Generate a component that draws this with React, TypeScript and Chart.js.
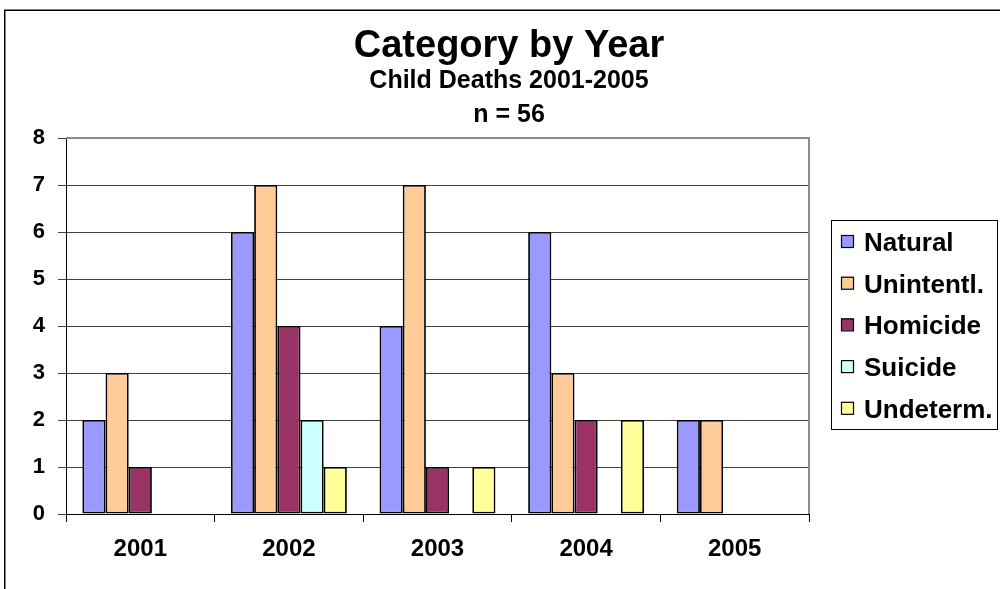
import React, { useEffect, useRef } from "react";
import { Chart, registerables } from "chart.js";

Chart.register(...registerables);

const years = ["2001", "2002", "2003", "2004", "2005"];
const seriesNames = ["Natural", "Unintentl.", "Homicide", "Suicide", "Undeterm."];
const natural = [2, 6, 4, 6, 2];
const unintentional = [3, 7, 7, 3, 2];
const homicide = [1, 4, 1, 2, 0];
const suicide = [0, 2, 0, 0, 0];
const undetermined = [0, 1, 1, 2, 0];
const seriesColors = ["#9999FF", "#FFCC99", "#993366", "#CCFFFF", "#FFFF99"];
const titleText = "Category by Year";
const subtitleLines = ["Child Deaths 2001-2005", "n = 56"];
const yTicks = [0, 1, 2, 3, 4, 5, 6, 7, 8];

const FONT = "'Liberation Sans', Arial, Helvetica, sans-serif";

const decorPlugin = {
  id: "decor",
  beforeDraw(chart: any) {
    const ctx = chart.ctx;
    ctx.save();
    ctx.fillStyle = "#ffffff";
    ctx.fillRect(0, 0, chart.width, chart.height);
    // outer frame
    ctx.strokeStyle = "#000";
    ctx.lineWidth = 1.5;
    ctx.beginPath();
    ctx.moveTo(4.75, chart.height);
    ctx.lineTo(4.75, 10.25);
    ctx.lineTo(chart.width, 10.25);
    ctx.stroke();
    // titles
    ctx.fillStyle = "#000";
    ctx.textAlign = "center";
    ctx.textBaseline = "alphabetic";
    ctx.font = `bold 38px ${FONT}`;
    ctx.fillText(titleText, 509, 57);
    ctx.font = `bold 25px ${FONT}`;
    ctx.fillText(subtitleLines[0], 509, 88);
    ctx.font = `bold 25px ${FONT}`;
    ctx.fillText(subtitleLines[1], 509, 122);
    ctx.restore();
  },
  beforeDatasetsDraw(chart: any) {
    const { ctx, chartArea } = chart;
    ctx.save();
    ctx.strokeStyle = "#8c8c8c";
    ctx.lineWidth = 2;
    ctx.beginPath();
    ctx.moveTo(chartArea.left, chartArea.top);
    ctx.lineTo(chartArea.right, chartArea.top);
    ctx.lineTo(chartArea.right, chartArea.bottom);
    ctx.stroke();
    ctx.restore();
  },
  afterDraw(chart: any) {
    const ctx = chart.ctx;
    ctx.save();
    // legend box
    ctx.strokeStyle = "#000";
    ctx.lineWidth = 1;
    ctx.strokeRect(831.5, 220.5, 166, 209);
    ctx.font = `bold 26px ${FONT}`;
    ctx.textAlign = "left";
    ctx.textBaseline = "alphabetic";
    chart.data.datasets.forEach((ds: any, i: number) => {
      const base = 251 + i * 41.7;
      ctx.fillStyle = ds.backgroundColor;
      ctx.fillRect(841, base - 16, 12, 12);
      ctx.strokeStyle = "#000";
      ctx.lineWidth = 1.2;
      ctx.strokeRect(841.5, base - 15.5, 12, 12);
      ctx.fillStyle = "#000";
      ctx.fillText(ds.label, 864, base);
    });
    ctx.restore();
  },
};

export default function App() {
  const ref = useRef<HTMLCanvasElement | null>(null);

  useEffect(() => {
    if (!ref.current) return;
    const values = [natural, unintentional, homicide, suicide, undetermined];
    const chart = new Chart(ref.current, {
      type: "bar",
      data: {
        labels: years,
        datasets: seriesNames.map((name, i) => ({
          label: name,
          data: values[i],
          backgroundColor: seriesColors[i],
          borderColor: "#000",
          borderWidth: 1.8,
          borderSkipped: false,
          categoryPercentage: 0.78,
          barPercentage: 1,
        })),
      },
      options: {
        responsive: false,
        animation: false,
        devicePixelRatio: 1,
        layout: { padding: { top: 138, right: 191, left: 0, bottom: 0 } },
        plugins: {
          legend: { display: false },
          title: { display: false },
          tooltip: { enabled: false },
        },
        scales: {
          x: {
            grid: {
              offset: true,
              drawOnChartArea: false,
              drawTicks: true,
              tickLength: 8,
              color: "#000",
            },
            border: { color: "#000", width: 1 },
            ticks: {
              color: "#000",
              font: { family: FONT, size: 24, weight: "bold" },
              padding: 13,
              maxRotation: 0,
            },
            afterFit(scale: any) {
              scale.height = 75;
            },
          },
          y: {
            min: 0,
            max: 8,
            afterBuildTicks(scale: any) {
              scale.ticks = yTicks.map((v) => ({ value: v }));
            },
            grid: {
              color: "#404040",
              lineWidth: 1,
              tickLength: 8,
            },
            border: { color: "#000", width: 1 },
            ticks: {
              color: "#000",
              font: { family: FONT, size: 22, weight: "bold" },
              padding: 13,
            },
            afterFit(scale: any) {
              scale.width = 66;
            },
          },
        },
      },
      plugins: [decorPlugin],
    });
    return () => chart.destroy();
  }, []);

  return (
    <div style={{ position: "fixed", left: 0, top: 0, width: 1000, height: 589, background: "#fff" }}>
      <canvas ref={ref} width={1000} height={589} style={{ display: "block", width: 1000, height: 589 }} />
    </div>
  );
}
